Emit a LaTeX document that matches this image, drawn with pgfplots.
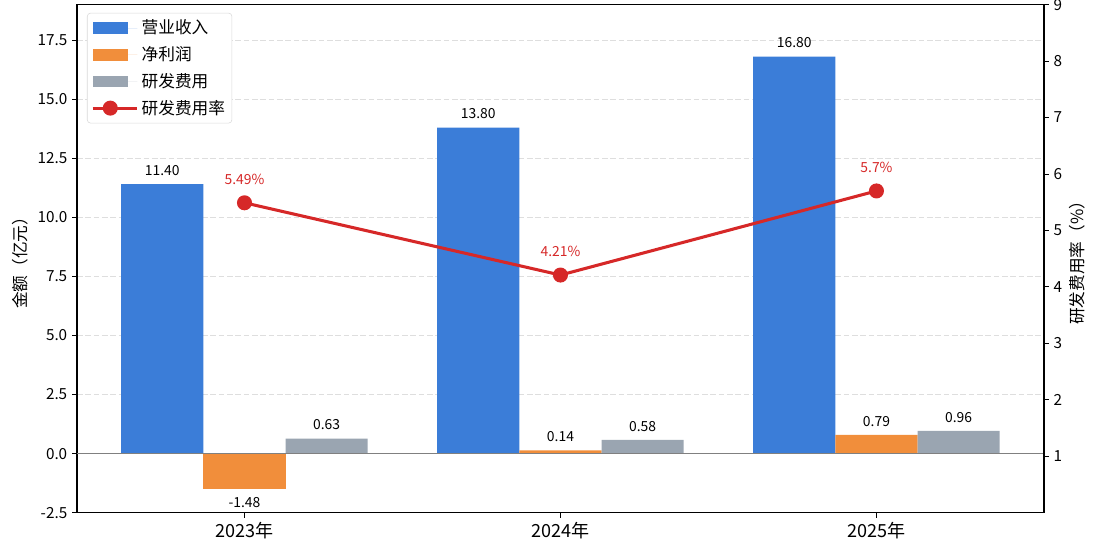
\documentclass[border=0pt]{standalone}
\usepackage{pgfplots}
\pgfplotsset{compat=1.18}
\usepackage{fontspec}
\setmainfont{Noto Sans CJK SC}
\definecolor{cBlue}{HTML}{3B7DD8}
\definecolor{cOrange}{HTML}{F18E3B}
\definecolor{cGray}{HTML}{9AA5B1}
\definecolor{cRed}{HTML}{D62828}
\pgfplotsset{
  bar legend/.style={legend image code/.code={\fill[##1, sharp corners] (0pt,-4.2pt) rectangle (25pt,4.2pt); \path (0pt,0pt) -- (32pt,0pt);}},
  line legend mk/.style={legend image code/.code={\draw[mark repeat=2,mark phase=2, sharp corners, ##1] plot coordinates {(0pt,0pt) (12.5pt,0pt) (25pt,0pt)}; \path (0pt,0pt) -- (32pt,0pt);}},
}
\begin{document}
\begin{tikzpicture}
\useasboundingbox (0,0) rectangle (792pt,399.6pt);
\begin{axis}[
  at={(55.44pt,30.46pt)}, anchor=south west, scale only axis,
  width=696.2pt, height=365.8pt,
  xmin=-0.53, xmax=2.53, ymin=-2.5, ymax=19.0,
  xtick={0,1,2}, xticklabels={2023年,2024年,2025年},
  ytick={-2.5,0,2.5,5,7.5,10,12.5,15,17.5},
  yticklabels={-2.5,0.0,2.5,5.0,7.5,10.0,12.5,15.0,17.5},
  xtick pos=bottom, ytick pos=left, tick align=outside,
  major tick length=3.5pt,
  tick style={black, line width=0.6pt},
  axis line style={line width=0.8pt},
  /pgf/number format/assume math mode=true,
  xticklabel style={font=\fontsize{13}{15}\selectfont},
  yticklabel style={font=\fontsize{11}{13}\selectfont},
  ymajorgrids,
  grid style={black!13, dash pattern=on 4pt off 2pt, line width=0.6pt},
  ylabel={金额（亿元）},
  ylabel style={font=\fontsize{12}{14}\selectfont, at={(axis description cs:-0.059,0.5)}, anchor=center},
  legend cell align=left,
  legend style={at={(axis description cs:0.0103,0.984)}, anchor=north west,
    draw=black!15, rounded corners=2.5pt, fill=white,
    font=\fontsize{12}{14}\selectfont, row sep=3.6pt, inner sep=3pt},
  point meta=explicit symbolic,
  nodes near coords,
  every node near coord/.append style={font=\fontsize{10}{12}\selectfont, inner ysep=6pt, black, anchor=south},
]
\addplot[ybar, bar width=0.26, bar shift=0, fill=cBlue, draw=none, bar legend]
  coordinates {(-0.26,11.40) [11.40] (0.74,13.80) [13.80] (1.74,16.80) [16.80]};
\addlegendentry{营业收入}
\addplot[ybar, bar width=0.26, bar shift=0, fill=cOrange, draw=none, bar legend]
  coordinates {(1,0.14) [0.14] (2,0.79) [0.79]};
\addlegendentry{净利润}
\addplot[ybar, bar width=0.26, bar shift=0, fill=cOrange, draw=none, forget plot,
  every node near coord/.append style={anchor=north}]
  coordinates {(0,-1.48) [-1.48]};
\addplot[ybar, bar width=0.26, bar shift=0, fill=cGray, draw=none, bar legend]
  coordinates {(0.26,0.63) [0.63] (1.26,0.58) [0.58] (2.26,0.96) [0.96]};
\addlegendentry{研发费用}
\addlegendimage{cRed, line width=2.2pt, mark=*, mark size=4.3pt, line legend mk}
\addlegendentry{研发费用率}
\addplot[black!50, line width=0.8pt, nodes near coords={}, forget plot] coordinates {(-0.53,0) (2.53,0)};
\end{axis}
\begin{axis}[
  at={(55.44pt,30.46pt)}, anchor=south west, scale only axis,
  width=696.2pt, height=365.8pt,
  xmin=-0.53, xmax=2.53, ymin=0, ymax=9,
  axis x line=none, axis y line*=right,
  ytick={1,2,3,4,5,6,7,8,9},
  tick align=outside, major tick length=3.5pt,
  tick style={black, line width=0.6pt},
  axis line style={line width=0.8pt},
  /pgf/number format/assume math mode=true,
  yticklabel style={font=\fontsize{11}{13}\selectfont},
  ylabel={研发费用率（\%）},
  ylabel style={font=\fontsize{12}{14}\selectfont, at={(axis description cs:1.0342,0.5)}, anchor=center},
]
\addplot[cRed, line width=2.2pt, mark=*, mark size=4.3pt,
  point meta=explicit symbolic, nodes near coords,
  every node near coord/.append style={anchor=south, yshift=8.5pt, text=cRed, font=\fontsize{10}{12}\selectfont}]
  coordinates {(0,5.49) [5.49\%] (1,4.21) [4.21\%] (2,5.7) [5.7\%]};
\end{axis}
\end{tikzpicture}
\end{document}
